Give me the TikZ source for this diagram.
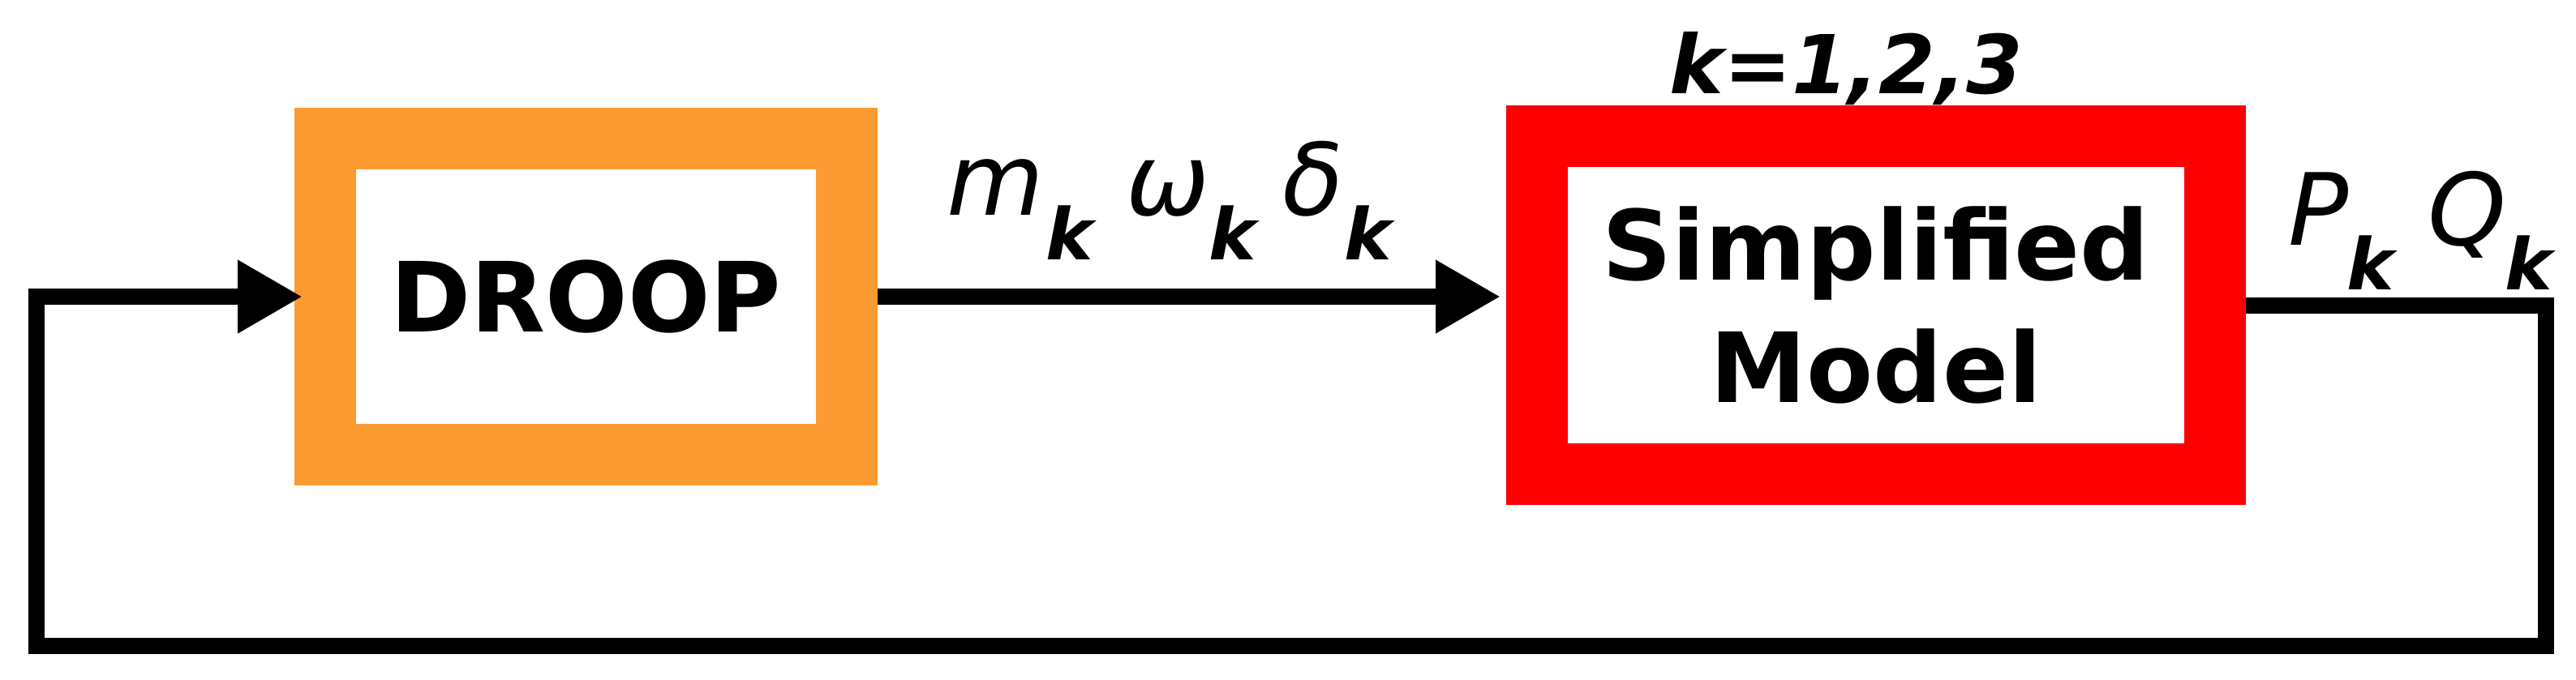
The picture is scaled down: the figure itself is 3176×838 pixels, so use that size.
\documentclass[tikz,border=0pt]{standalone}
\usepackage{fontspec}
\setmainfont{DejaVu Sans}
\usetikzlibrary{arrows.meta}
\definecolor{droopor}{RGB}{253,155,51}
\definecolor{modred}{RGB}{255,0,0}
\newcommand{\symg}[1]{\makebox[0pt]{\fontsize{35}{35}\selectfont\itshape #1}}
\newcommand{\subg}[1]{\makebox[0pt]{\raisebox{-5.5mm}{\fontsize{25}{25}\selectfont\bfseries\itshape #1}}}
\begin{document}
\begin{tikzpicture}[x=0.1mm,y=-0.1mm,
  blockbox/.style={rectangle, line width=7.6mm, inner sep=0pt, fill=white,
    font=\fontsize{34}{43}\selectfont\bfseries, align=center},
  sig/.style={line width=2mm, line join=miter, -{Triangle[length=8mm,width=8.5mm]}},
  siglabel/.style={anchor=base west, inner sep=0pt},
  setlabel/.style={anchor=base, inner sep=0pt, font=\fontsize{28.5}{28.5}\selectfont\bfseries\itshape},
]
\useasboundingbox (0,0) rectangle (3176,838);
\node[blockbox, draw=droopor, minimum width=64.3mm, minimum height=39mm] (droop) at (722.5,366) {DROOP};
\node[blockbox, draw=modred, minimum width=83.6mm, minimum height=41.7mm] (model) at (2313,376.5) {Simplified\\Model};
\node[setlabel] (kset) at (2276.5,115) {k=1,2,3};

\draw[sig] (droop.east) -- ([xshift=-0.7mm]droop.east -| model.west);

\coordinate (fbr) at (3139,796.5);
\coordinate (fbl) at (45,796.5);
\draw[sig] (model.east) -| (fbr) -- (fbl) |- ([xshift=1mm]droop.west);

\node[siglabel] (mwd) at (1172,265)
  {\kern5.5mm\symg{m}\kern9.1mm\subg{k}\kern12.1mm\symg{ω}\kern8.0mm\subg{k}\kern9.9mm\symg{δ}\kern6.8mm\subg{k}\kern3mm};
\node[siglabel] (pq) at (2822,302)
  {\kern3.6mm\symg{P}\kern6.4mm\subg{k}\kern11.9mm\symg{Q}\kern7.6mm\subg{k}\kern3mm};
\end{tikzpicture}
\end{document}
